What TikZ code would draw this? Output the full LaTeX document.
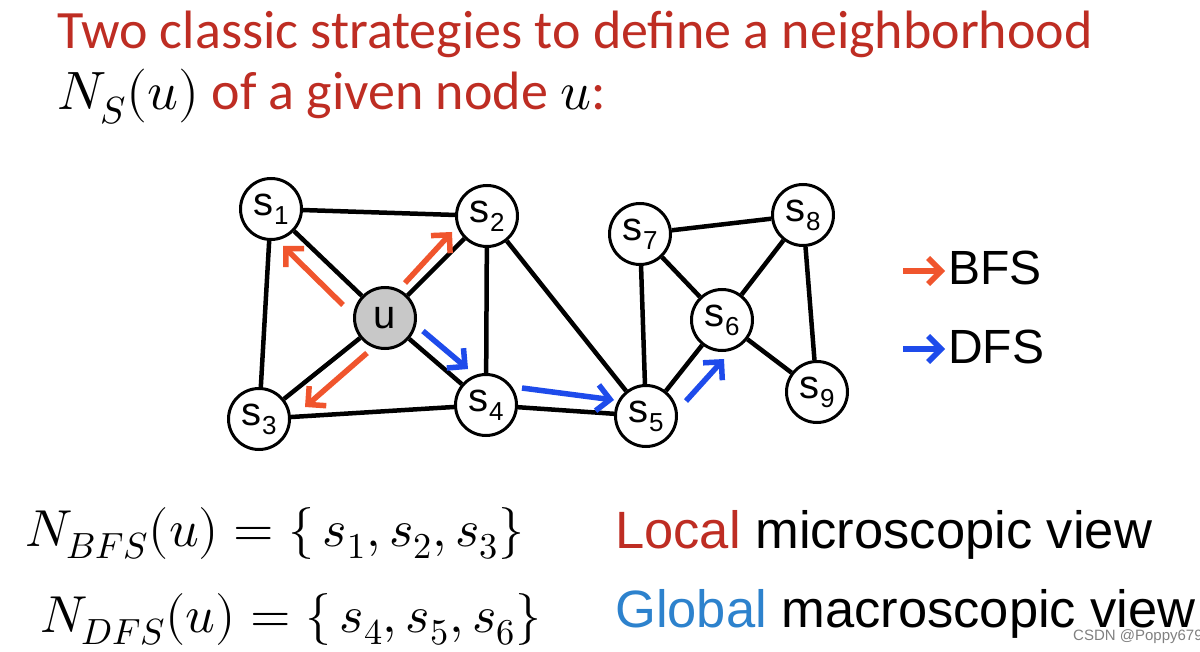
\documentclass[tikz,border=0pt]{standalone}
\usepackage{fontspec}
\usepackage{unicode-math}
\setmathfont{Latin Modern Math}
\usetikzlibrary{arrows.meta}
\newfontfamily\titlefont{Carlito}
\newfontfamily\helv{Liberation Sans}
\definecolor{titlered}{RGB}{190,45,35}
\definecolor{bfsorange}{RGB}{240,85,45}
\definecolor{dfsblue}{RGB}{30,75,235}
\definecolor{globalblue}{RGB}{45,130,205}
\definecolor{ugray}{RGB}{200,200,200}
\newcommand\snode[1]{s\kern0.5pt\raisebox{-9pt}{\fontsize{26}{26}\selectfont #1}}
\begin{document}
\begin{tikzpicture}[x=1pt,y=-1pt,
  vert/.style={circle, draw=black, line width=3pt, fill=white, minimum size=61pt, inner sep=0pt, font=\helv\fontsize{40}{40}\selectfont},
  graphedge/.style={line width=4.5pt},
  bfsarrow/.style={draw=bfsorange, line width=5.5pt, -{Straight Barb[length=13pt,width=26pt,line width=5.5pt]}},
  dfsarrow/.style={draw=dfsblue, line width=5.5pt, -{Straight Barb[length=13pt,width=26pt,line width=5.5pt]}},
  txt/.style={anchor=base west, inner sep=0pt}
]
\fill[white] (0,0) rectangle (1200,652);
\useasboundingbox (0,0) rectangle (1200,652);

% title
\node[txt, text=titlered, font=\titlefont\fontsize{54}{60}\selectfont] (t1) at (57,49) {Two classic strategies to define a neighborhood};
\node[txt, text=titlered, font=\titlefont\fontsize{54}{60}\selectfont] (t2) at (57,110) {{\color{black}$N_S(u)$} of a given node {\color{black}$u$}:};

% nodes
\node[vert] (s1) at (271,209) {\snode{1}};
\node[vert] (s2) at (487,216) {\snode{2}};
\node[vert, fill=ugray] (u) at (385,318) {u};
\node[vert] (s3) at (259,419) {\snode{3}};
\node[vert] (s4) at (486,405) {\snode{4}};
\node[vert] (s5) at (646,416) {\snode{5}};
\node[vert] (s7) at (640,234) {\snode{7}};
\node[vert] (s8) at (803,215) {\snode{8}};
\node[vert] (s6) at (722,320) {\snode{6}};
\node[vert] (s9) at (817,392) {\snode{9}};

% edges
\draw[graphedge] (s1) -- (s2);
\draw[graphedge] (s1) -- (u);
\draw[graphedge] (s1) -- (s3);
\draw[graphedge] (s2) -- (u);
\draw[graphedge] (s2) -- (s4);
\draw[graphedge] (s2) -- (s5);
\draw[graphedge] (u) -- (s3);
\draw[graphedge] (u) -- (s4);
\draw[graphedge] (s3) -- (s4);
\draw[graphedge] (s4) -- (s5);
\draw[graphedge] (s5) -- (s7);
\draw[graphedge] (s5) -- (s6);
\draw[graphedge] (s7) -- (s6);
\draw[graphedge] (s7) -- (s8);
\draw[graphedge] (s8) -- (s6);
\draw[graphedge] (s8) -- (s9);
\draw[graphedge] (s6) -- (s9);

% traversal arrows
\coordinate (b1t) at (343,305); \coordinate (b1h) at (283,246);
\coordinate (b2t) at (405,283); \coordinate (b2h) at (452,232);
\coordinate (b3t) at (367,353); \coordinate (b3h) at (305,407);
\coordinate (d1t) at (423,331); \coordinate (d1h) at (468,369);
\coordinate (d2t) at (522,388); \coordinate (d2h) at (614,400);
\coordinate (d3t) at (686,401); \coordinate (d3h) at (724,359);
\draw[bfsarrow] (b1t) -- (b1h);
\draw[bfsarrow] (b2t) -- (b2h);
\draw[bfsarrow] (b3t) -- (b3h);
\draw[dfsarrow] (d1t) -- (d1h);
\draw[dfsarrow] (d2t) -- (d2h);
\draw[dfsarrow] (d3t) -- (d3h);

% legend
\coordinate (lb1) at (903,271); \coordinate (lb2) at (945,271);
\coordinate (ld1) at (903,349); \coordinate (ld2) at (945,349);
\draw[bfsarrow] (lb1) -- (lb2);
\draw[dfsarrow] (ld1) -- (ld2);
\node[txt, font=\helv\fontsize{48}{48}\selectfont] (bfs) at (948,285) {BFS};
\node[txt, font=\helv\fontsize{48}{48}\selectfont] (dfs) at (948,364) {DFS};

% formulas
\node[txt, font=\fontsize{52}{60}\selectfont] (nb) at (25,546) {$N_{BFS}(u)=\{\,s_1,s_2,s_3\}$};
\node[txt, font=\fontsize{52}{60}\selectfont] (nd) at (40,632) {$N_{DFS}(u)=\{\,s_4,s_5,s_6\}$};

% views
\node[txt, font=\helv\fontsize{52.5}{60}\selectfont] (loc) at (615,548) {\textcolor{titlered}{Local} microscopic view};
\node[txt, font=\helv\fontsize{52.5}{60}\selectfont] (glob) at (615,627) {\textcolor{globalblue}{Global} macroscopic view};

% watermark
\node[txt, text=gray, font=\helv\fontsize{15}{15}\selectfont] (wm) at (1073,640) {CSDN @Poppy679};
\end{tikzpicture}
\end{document}
